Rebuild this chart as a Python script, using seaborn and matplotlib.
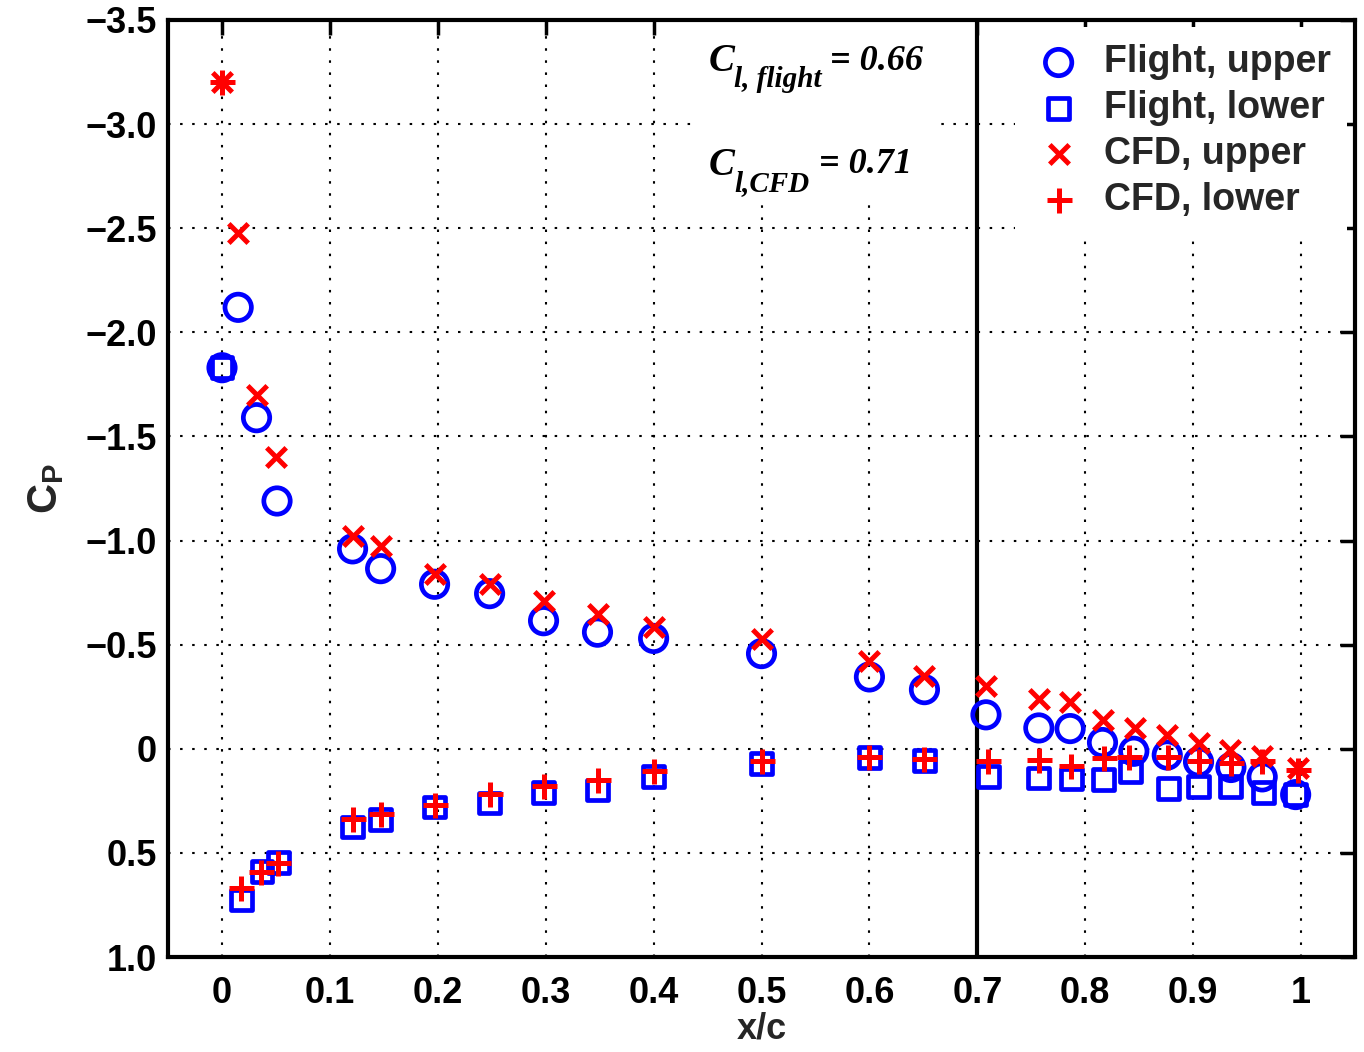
import matplotlib
matplotlib.use("Agg")
import matplotlib.pyplot as plt
import seaborn as sns
import pandas as pd
from matplotlib.patches import Rectangle

# ---------------- data ----------------
x_flight_upper = [0.0, 0.015, 0.032, 0.051, 0.121, 0.147, 0.197, 0.248, 0.298, 0.348, 0.40, 0.50,
                  0.60, 0.651, 0.708, 0.757, 0.786, 0.816, 0.845, 0.876, 0.905, 0.935, 0.964, 0.995]
cp_flight_upper = [-1.83, -2.12, -1.59, -1.19, -0.96, -0.865, -0.79, -0.745, -0.615, -0.56, -0.53, -0.457,
                   -0.345, -0.284, -0.163, -0.10, -0.097, -0.03, 0.012, 0.03, 0.063, 0.09, 0.135, 0.22]

x_flight_lower = [0.0, 0.018, 0.037, 0.052, 0.121, 0.147, 0.197, 0.248, 0.298, 0.348, 0.40, 0.50,
                  0.60, 0.651, 0.71, 0.757, 0.787, 0.817, 0.842, 0.877, 0.905, 0.935, 0.965, 0.995]
cp_flight_lower = [-1.83, 0.726, 0.59, 0.547, 0.376, 0.341, 0.28, 0.26, 0.21, 0.198, 0.134, 0.072,
                   0.04, 0.056, 0.135, 0.14, 0.145, 0.148, 0.11, 0.19, 0.18, 0.18, 0.21, 0.22]

x_cfd_upper = [0.0, 0.0145, 0.032, 0.05, 0.121, 0.147, 0.197, 0.248, 0.298, 0.348, 0.40, 0.50,
               0.60, 0.651, 0.708, 0.757, 0.786, 0.816, 0.846, 0.876, 0.905, 0.934, 0.964, 0.997]
cp_cfd_upper = [-3.20, -2.476, -1.70, -1.40, -1.02, -0.973, -0.84, -0.793, -0.708, -0.645, -0.587, -0.529,
                -0.42, -0.35, -0.30, -0.24, -0.227, -0.14, -0.10, -0.067, -0.029, 0.005, 0.037, 0.09]

x_cfd_lower = [0.0, 0.018, 0.036, 0.052, 0.121, 0.147, 0.197, 0.248, 0.298, 0.348, 0.40, 0.50,
               0.60, 0.651, 0.71, 0.757, 0.787, 0.817, 0.841, 0.877, 0.905, 0.935, 0.964, 0.997]
cp_cfd_lower = [-3.20, 0.67, 0.59, 0.547, 0.338, 0.313, 0.27, 0.216, 0.18, 0.149, 0.109, 0.058,
                0.04, 0.048, 0.06, 0.053, 0.085, 0.045, 0.04, 0.04, 0.06, 0.066, 0.06, 0.10]

x_ticks = [0, 0.1, 0.2, 0.3, 0.4, 0.5, 0.6, 0.7, 0.8, 0.9, 1.0]
x_tick_labels = ["0", "0.1", "0.2", "0.3", "0.4", "0.5", "0.6", "0.7", "0.8", "0.9", "1"]
y_ticks = [-3.5, -3.0, -2.5, -2.0, -1.5, -1.0, -0.5, 0, 0.5, 1.0]
y_tick_labels = ["\u22123.5", "\u22123.0", "\u22122.5", "\u22122.0", "\u22121.5", "\u22121.0",
                 "\u22120.5", "0", "0.5", "1.0"]
series_labels = ["Flight, upper", "Flight, lower", "CFD, upper", "CFD, lower"]
cl_flight = "0.66"
cl_cfd = "0.71"

# ---------------- style ----------------
sns.set_theme(style="white")
plt.rcParams["font.family"] = ["Liberation Sans", "DejaVu Sans"]
plt.rcParams["font.weight"] = "bold"
plt.rcParams["mathtext.fontset"] = "custom"
plt.rcParams["mathtext.rm"] = "Liberation Serif:italic"
plt.rcParams["mathtext.it"] = "Liberation Serif:italic"
plt.rcParams["mathtext.sf"] = "Liberation Sans:bold"

FS = 26
fig = plt.figure(figsize=(13.64, 10.52), dpi=100)
ax = fig.add_axes([0.1232, 0.0903, 0.8702, 0.8907])

df_fu = pd.DataFrame({"x": x_flight_upper, "cp": cp_flight_upper})
df_fl = pd.DataFrame({"x": x_flight_lower, "cp": cp_flight_lower})
df_cu = pd.DataFrame({"x": x_cfd_upper, "cp": cp_cfd_upper})
df_cl = pd.DataFrame({"x": x_cfd_lower, "cp": cp_cfd_lower})

sns.scatterplot(data=df_fu, x="x", y="cp", ax=ax, marker="o", s=19**2, facecolors="none",
                edgecolor="#0000ff", linewidth=3.4, label=series_labels[0], zorder=3)
sns.scatterplot(data=df_fl, x="x", y="cp", ax=ax, marker="s", s=15**2, facecolors="none",
                edgecolor="#0000ff", linewidth=3.4, label=series_labels[1], zorder=3)
sns.scatterplot(data=df_cu, x="x", y="cp", ax=ax, marker="x", s=14**2, color="#ff0000",
                linewidth=3.6, label=series_labels[2], zorder=4)
sns.scatterplot(data=df_cl, x="x", y="cp", ax=ax, marker="+", s=18**2, color="#ff0000",
                linewidth=3.6, label=series_labels[3], zorder=4)

ax.axvline(0.7, color="black", linewidth=3, zorder=2)

ax.set_xlim(-0.05, 1.05)
ax.set_ylim(1.0, -3.5)
ax.set_xticks(x_ticks)
ax.set_xticklabels(x_tick_labels)
ax.set_yticks(y_ticks)
ax.set_yticklabels(y_tick_labels)

ax.grid(True, color="black", linestyle=(0, (1.2, 4.6)), linewidth=1.5)
ax.set_axisbelow(True)
for sp in ax.spines.values():
    sp.set_linewidth(3)
    sp.set_color("black")
    sp.set_visible(True)
ax.tick_params(direction="in", length=11, width=2.5, top=True, right=True,
               labelsize=FS, colors="black")
ax.tick_params(axis="x", pad=14)
ax.tick_params(axis="y", pad=8)

ax.set_xlabel("x/c", fontsize=FS, fontweight="bold", labelpad=0)
ax.set_ylabel(r"$\mathsf{C_P}$", fontsize=30, labelpad=14)

# white box behind annotations
ax.add_patch(Rectangle((0.4465, 0.808), 0.1995, 0.2, transform=ax.transAxes,
                       facecolor="white", edgecolor="none", zorder=1))

tkw = dict(family="Liberation Serif", style="italic", weight="bold", color="black", zorder=5)
ax.text(0.451, -3.255, "C", fontsize=28, va="baseline", ha="left", **tkw)
ax.text(0.4745, -3.18, "l, flight", fontsize=21, va="baseline", ha="left", **tkw)
ax.text(0.563, -3.26, "= " + cl_flight, fontsize=26, va="baseline", ha="left", **tkw)
ax.text(0.451, -2.755, "C", fontsize=28, va="baseline", ha="left", **tkw)
ax.text(0.4745, -2.68, "l,CFD", fontsize=21, va="baseline", ha="left", **tkw)
ax.text(0.553, -2.765, "= " + cl_cfd, fontsize=26, va="baseline", ha="left", **tkw)

leg = ax.legend(loc="upper right", bbox_to_anchor=(1.0, 1.0), fontsize=27, frameon=True,
                facecolor="white", edgecolor="none", framealpha=1, fancybox=False,
                handlelength=1.4, handletextpad=0.5, labelspacing=0.26,
                borderpad=0.45, borderaxespad=0.2, scatterpoints=1)
leg.set_zorder(6)
for t in leg.get_texts():
    t.set_fontweight("bold")

fig.savefig("out.png", dpi=100, facecolor="white")
